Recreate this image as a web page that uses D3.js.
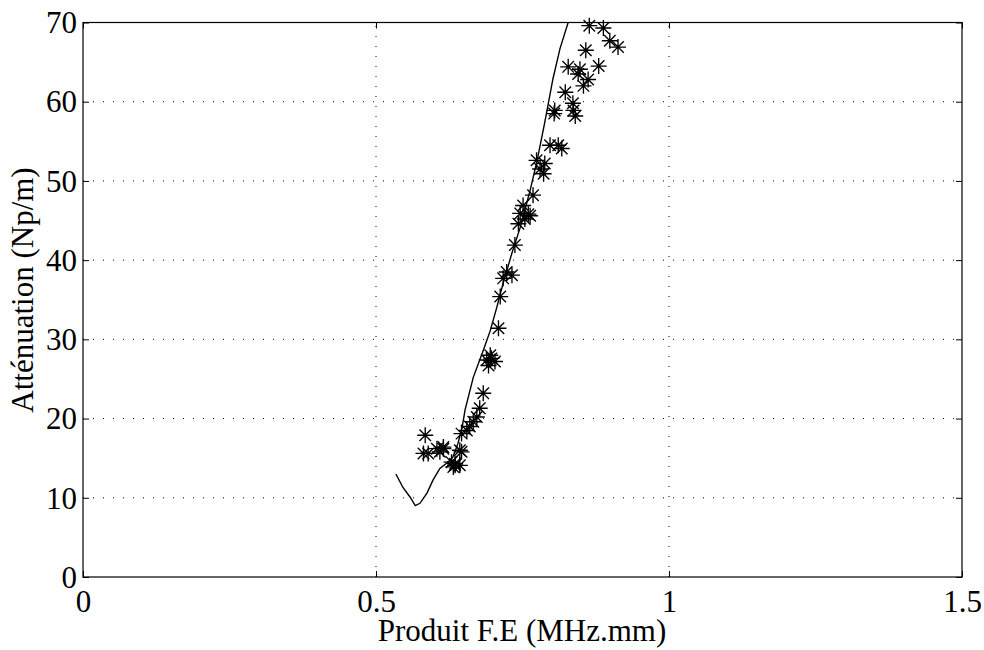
<!DOCTYPE html>
<html><head><meta charset="utf-8">
<script src="https://cdn.jsdelivr.net/npm/d3@7"></script>
<style>body{margin:0;background:#fff}svg{display:block}svg text{font-family:"Liberation Serif","DejaVu Serif",serif !important;fill:#000}</style>
</head><body><svg id="c" width="984" height="650"></svg>
<script>
// Theoretical curve
const curveX = [0.534,0.546,0.558,0.567,0.575,0.587,0.597,0.609,0.621,0.631,0.640,0.647,0.652,0.666,0.683,0.695,0.706,0.717,0.732,0.746,0.763,0.775,0.788,0.802,0.814,0.830];
const curveY = [13.0,11.3,10.1,9.0,9.3,10.6,12.2,13.7,14.4,15.1,16.9,18.9,21.1,25.2,28.6,31.1,34.0,37.1,40.9,44.1,48.8,52.6,57.4,62.9,66.7,70.5];
// Measured points (asterisks)
const measX = [0.864,0.888,0.899,0.913,0.858,0.828,0.848,0.845,0.862,0.880,0.854,0.823,0.836,
  0.805,0.837,0.840,0.804,0.797,0.817,0.811,0.774,0.788,0.780,0.786,0.768,
  0.751,0.760,0.746,0.763,0.754,0.743,0.737,0.723,0.732,0.717,0.712,
  0.709,0.697,0.689,0.703,0.692,0.695,0.683,0.677,
  0.672,0.666,0.660,0.655,0.646,0.643,0.615,0.629,0.635,
  0.584,0.589,0.581,0.604,0.615,0.609,0.646,0.635,0.632,0.643];
const measY = [69.6,69.3,67.7,66.9,66.5,64.4,64.1,63.5,62.8,64.5,62.0,61.2,59.8,
  58.9,58.9,58.2,58.5,54.5,54.1,54.5,52.6,52.2,51.5,50.9,48.2,
  46.9,45.8,45.9,45.6,45.2,44.6,41.9,38.5,38.1,37.7,35.4,
  31.4,27.6,27.4,27.2,26.7,28.0,23.2,21.3,
  20.2,19.6,19.0,18.5,18.1,16.0,16.2,14.5,14.1,
  17.9,15.6,15.6,16.2,16.4,15.8,15.8,14.3,13.9,14.1];
const xTicks = [0,0.5,1,1.5];
const xTickLabels = ["0","0.5","1","1.5"];
const yTicks = [0,10,20,30,40,50,60,70];
const yTickLabels = ["0","10","20","30","40","50","60","70"];
const xTitle = "Produit F.E (MHz.mm)";
const yTitle = "Atténuation (Np/m)";

const L=83,R=962,T=22.5,B=577,FS=31;
const svg=d3.select("#c");
const x=d3.scaleLinear().domain([0,1.5]).range([L,R]);
const y=d3.scaleLinear().domain([0,70]).range([B,T]);

// grid
const g=svg.append("g");
xTicks.forEach(v=>{ if(v>0&&v<1.5) g.append("line").attr("x1",x(v)).attr("x2",x(v)).attr("y1",B).attr("y2",T)
  .attr("stroke","#000").attr("stroke-width",1).attr("stroke-dasharray","1,9");});
yTicks.forEach(v=>{ if(v>0&&v<70) g.append("line").attr("x1",L).attr("x2",R).attr("y1",y(v)).attr("y2",y(v))
  .attr("stroke","#000").attr("stroke-width",1).attr("stroke-dasharray","1,9");});

// axes with inward ticks
const xa=d3.axisBottom(x).tickValues(xTicks).tickFormat((d,i)=>xTickLabels[i]).tickSizeInner(-6).tickSizeOuter(0);
const ya=d3.axisLeft(y).tickValues(yTicks).tickFormat((d,i)=>yTickLabels[i]).tickSizeInner(-6).tickSizeOuter(0);
const gx=svg.append("g").attr("transform",`translate(0,${B})`).call(xa);
const gy=svg.append("g").attr("transform",`translate(${L},0)`).call(ya);
svg.append("g").attr("transform",`translate(0,${T})`).call(d3.axisTop(x).tickValues(xTicks).tickFormat("").tickSizeInner(-6).tickSizeOuter(0));
svg.append("g").attr("transform",`translate(${R},0)`).call(d3.axisRight(y).tickValues(yTicks).tickFormat("").tickSizeInner(-6).tickSizeOuter(0));
svg.selectAll(".domain").remove();
svg.selectAll(".tick line").attr("stroke","#000");
[gx,gy].forEach(a=>{a.attr("font-family",null).attr("font-size",null);a.selectAll("text").attr("font-size",FS).attr("fill","#000");});
gx.selectAll("text").attr("y",35).attr("dy",0);
gy.selectAll("text").attr("x",-6).attr("dy","0.33em");

// frame
svg.append("rect").attr("x",L).attr("y",T).attr("width",R-L).attr("height",B-T).attr("fill","none").attr("stroke","#000").attr("stroke-width",1.2);

// clip
svg.append("clipPath").attr("id","cp").append("rect").attr("x",L).attr("y",T).attr("width",R-L).attr("height",B-T);

// curve
const line=d3.line().x(d=>x(d[0])).y(d=>y(d[1]));
svg.append("path").attr("clip-path","url(#cp)").datum(curveX.map((v,i)=>[v,curveY[i]]))
  .attr("d",line).attr("fill","none").attr("stroke","#000").attr("stroke-width",1.4);

// asterisks
const r=8, rd=r*0.72;
const star=`M${-r},0L${r},0M0,${-r}L0,${r}M${-rd},${-rd}L${rd},${rd}M${-rd},${rd}L${rd},${-rd}`;
svg.append("g").selectAll("path").data(measX.map((v,i)=>[v,measY[i]])).join("path")
  .attr("transform",d=>`translate(${x(d[0])},${y(d[1])})`).attr("d",star)
  .attr("fill","none").attr("stroke","#000").attr("stroke-width",1.35);

// titles
svg.append("text").attr("x",522).attr("y",641).attr("text-anchor","middle").attr("font-size",FS).text(xTitle);
svg.append("text").attr("transform",`translate(33,290) rotate(-90)`).attr("text-anchor","middle").attr("font-size",FS).text(yTitle);
</script></body></html>
